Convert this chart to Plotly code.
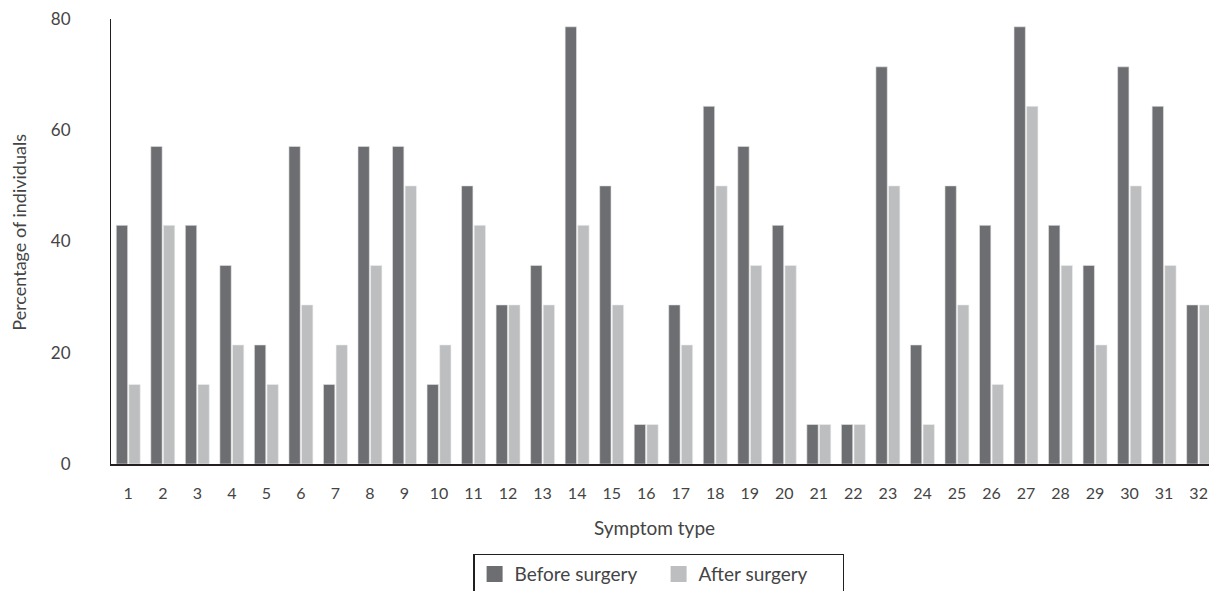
import plotly.graph_objects as go

categories = list(range(1, 33))
before = [42.9, 57.1, 42.9, 35.7, 21.4, 57.1, 14.3, 57.1, 57.1, 14.3,
          50.0, 28.6, 35.7, 78.6, 50.0, 7.1, 28.6, 64.3, 57.1, 42.9,
          7.1, 7.1, 71.4, 21.4, 50.0, 42.9, 78.6, 42.9, 35.7, 71.4,
          64.3, 28.6]
after = [14.3, 42.9, 14.3, 21.4, 14.3, 28.6, 21.4, 35.7, 50.0, 21.4,
         42.9, 28.6, 28.6, 42.9, 28.6, 7.1, 21.4, 50.0, 35.7, 35.7,
         7.1, 7.1, 50.0, 7.1, 28.6, 14.3, 64.3, 35.7, 21.4, 50.0,
         35.7, 28.6]
y_ticks = [0, 20, 40, 60, 80]

DARK = "#6d6e71"
LIGHT = "#bcbec0"
FONT = "Lato"
TXT = "#444444"

fig = go.Figure()
fig.add_trace(go.Bar(x=categories, y=before, marker=dict(color=DARK, line=dict(width=0.6, color="#e6e6e6")),
                     name="Before surgery", showlegend=False))
fig.add_trace(go.Bar(x=categories, y=after, marker=dict(color=LIGHT, line=dict(width=0.6, color="#eeeeee")),
                     name="After surgery", showlegend=False))
# legend proxies
fig.add_trace(go.Scatter(x=[None], y=[None], mode="markers", name="Before surgery",
                         marker=dict(symbol="square", size=17, color=DARK)))
fig.add_trace(go.Scatter(x=[None], y=[None], mode="markers", name="After surgery",
                         marker=dict(symbol="square", size=17, color=LIGHT)))

# The page body has an 8px margin, so the figure is offset by 8px.
fig.update_layout(
    width=1201, height=583,
    margin=dict(l=103, r=0, t=11, b=127, autoexpand=False),
    paper_bgcolor="white", plot_bgcolor="white",
    barmode="group", bargap=0.27, bargroupgap=0.1,
    font=dict(family=FONT, color=TXT, size=17),
    xaxis=dict(
        range=[0.5, 32.3], tickmode="array", tickvals=categories,
        ticktext=[str(c) for c in categories],
        showgrid=False, zeroline=False, showline=True, linecolor="#231f20", linewidth=1.5,
        ticks="", tickfont=dict(size=16, family=FONT, color=TXT), ticklabelstandoff=14,
        ticklabeloverflow="allow", automargin=False,
    ),
    yaxis=dict(
        range=[0, 80], tickmode="array", tickvals=y_ticks,
        showgrid=False, zeroline=False, showline=True, linecolor="#231f20", linewidth=1.2,
        ticks="", tickfont=dict(size=17, family=FONT, color=TXT), ticklabelstandoff=36,
        ticklabeloverflow="allow", automargin=False,
    ),
    annotations=[
        dict(text="Symptom type", x=0.4954, xref="paper", y=-0.142, yref="paper",
             xanchor="center", yanchor="middle", showarrow=False,
             font=dict(size=19, family=FONT, color=TXT)),
        dict(text="Percentage of individuals", x=-0.0838, xref="paper", y=0.522, yref="paper",
             xanchor="center", yanchor="middle", showarrow=False, textangle=-90,
             font=dict(size=18, family=FONT, color=TXT)),
    ],
    legend=dict(
        orientation="h", x=0.499, xanchor="center", y=-0.202, yanchor="top",
        bordercolor="#231f20", borderwidth=1.2, font=dict(size=19, family=FONT, color=TXT),
        itemsizing="trace", entrywidth=139,
    ),
)

fig.write_html("out.html")
